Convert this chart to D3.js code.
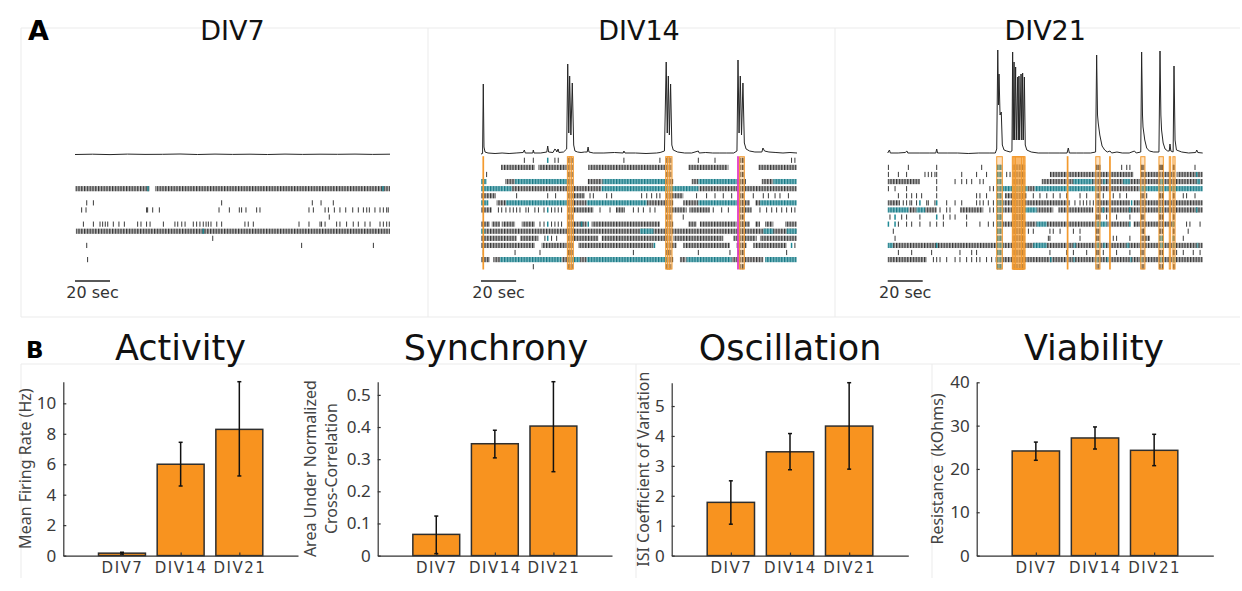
<!DOCTYPE html>
<html>
<head>
<meta charset="utf-8">
<script src="https://cdn.jsdelivr.net/npm/d3@7/dist/d3.min.js"></script>
<style>
  body { margin: 0; background: #fff; }
  svg text { font-family: "Noto Sans", sans-serif; }
  svg text.big { font-family: "DejaVu Sans", sans-serif; }
</style>
</head>
<body>
<svg id="figure" width="1242" height="591"></svg>
<script>

///////////////////////////////////////////////////////////////////////////////
// data
///////////////////////////////////////////////////////////////////////////////

var ages = ['DIV7', 'DIV14', 'DIV21']
var recordingSeconds = 180
var scaleBarSeconds = 20
var channelCount = 16

// population trace, [seconds, height]
var traceDIV7 = [[0,0.5],[10,0.8],[20,0.4],[30,0.9],[40,0.6],[50,0.7],[60,1.0],[70,0.5],[80,0.9],[90,0.6],
  [100,0.8],[110,0.5],[120,0.9],[130,0.6],[140,0.8],[150,0.7],[160,0.9],[170,0.6],[180,0.8]]

var traceDIV14 = [[0,1],[0.9,1.5],[1.3,71],[1.7,8],[2.3,3],[4,2],[8,1.5],[12,2],[16,1.5],[20,2],[24,2.5],[24.7,5],
  [25.2,2],[29.5,2],[29.8,5],[30.2,2],[34,2],[37.5,3],[38,9],[38.5,3],[41,2.5],[42.1,6],[42.7,5],[43.2,3],[43.9,6],
  [44.4,2.5],[47,3],[48.8,6],[49.4,91],[50,22],[50.5,79],[51.2,20],[52,72],[52.8,10],[53.5,4],[55,3],[57,2.5],
  [59,3],[60.5,3],[61,8],[61.5,3],[64,2],[70,2],[76,2.5],[81,2],[81.4,4],[82,2],[88,2],[94,1.5],[100,2],[102,2.5],
  [104.5,4],[105.5,93],[106.1,22],[106.7,79],[107.3,20],[108,71],[108.7,10],[109.5,5],[112,3],[116,2],[120,2],
  [123.8,4],[124.3,2],[128,2.5],[132,2],[136,2],[140,2],[144,2],[145.8,4],[146.4,95],[147,22],[147.7,79],
  [148.4,20],[149.2,72],[150,12],[151,6],[153,4],[156,3],[160,3],[160.6,7],[161.5,4],[164,3],[168,2.5],[172,2],
  [176,2.5],[180,2]]

var traceDIV21 = [[0,2],[1,5],[1.5,2],[6,2],[10,2.5],[11,4],[11.5,2],[18,2],[24,2],[27.5,2],[28,6],[28.5,2],[34,2],
  [40,2],[46,1.5],[52,2],[58,2],[61.5,2],[62.3,6],[62.9,105],[63.3,50],[63.6,81],[64.2,40],[64.9,43],[65.5,10],
  [66.5,5],[68,4],[70,3],[71,4],[71.4,103],[71.7,15],[72.2,93],[72.5,15],[73.1,88],[73.5,15],[74.3,78],[74.6,15],
  [75,79],[75.4,15],[76.2,81],[76.6,15],[77.1,82],[77.5,15],[78.1,78],[78.6,10],[79.5,5],[82,3],[86,2],[92,2],
  [98,2],[102.5,2],[103.2,7],[103.8,2],[108,2],[112,2],[116,2],[118.8,3],[119.4,100],[119.9,40],[120.3,32],
  [121.2,20],[122.5,9],[124,5],[125.5,3],[127,4],[128,2],[131,3],[134,2],[138,2],[141,4],[142,2],[144.6,3],
  [145.1,103],[145.6,40],[145.9,28],[146.9,15],[148,7],[149.5,4],[152,3],[155,3],[155.6,104],[156.1,40],
  [156.5,25],[157.4,12],[158.5,6],[160,4],[160.9,4],[161.3,11],[161.8,4],[163.1,3],[163.6,89],[164.2,15],
  [165,5],[168,3],[172,2],[176,2.5],[176.6,5],[177.2,2.5],[180,2]]

// raster per channel: d = dense gray runs, t = dense teal runs, s = single spikes, ts = teal spikes (seconds)
var rasterDIV7 = [{}, {}, {}, {},
  {d: [[0.2,42.5],[45.7,180]], ts: [41.7,176]},
  {},
  {s: [6.7,10.5,83.8,135.6,140.6,147.6]},
  {s: [3.8,6.3,40.9,41.5,44.4,48.2,82.3,88.2,93.9,95.2,97.7,103.8,105.7,133.7,136.2,142.9,144.8,148.2,151.4,
    154.7,158.7,161.9,164.8,166.7,168.2,171.4,174.3,176.2,178.1,179]},
  {s: [145.3]},
  {s: [4.8,10.5,14.3,15.8,17.3,18.7,21.9,25.1,28.2,35.8,37.7,40.9,42.9,50.5,57.1,58.7,61,62.9,67.6,69.5,71.4,
    73.3,74.9,76.2,77.7,81,83.8,97.1,99,101.9,128,133.7,140,140.9,142.9,149.5,151.4,155.2,159,161.9,165.7,168.6,
    174.3,176.2,178.1,179.6]},
  {d: [[0.5,180]], ts: [73.3]},
  {s: [78.7]},
  {s: [6.7,129.5,170.5]},
  {},
  {s: [7.2]},
  {}]

var rasterDIV14 = [
  {s: [24.7,29.8,42.1,44,81.4,101.9,123.8,133.3,176.9,178.8], ts: [38]},
  {d: [[11.4,30.7],[32.7,48.8],[61.1,104.8],[118.1,140.9],[158,179.8]]},
  {s: [3.2]},
  {t: [[0,3.2],[19.4,48.8],[69.3,104.8],[123.8,145.6],[166.5,179.8]],
    d: [[13.7,19.4],[48.8,52.6],[60.8,69.3],[104.8,109.5],[120,123.8],[145.6,150.9],[159.9,166.5]]},
  {t: [[0,17.5],[68.7,123.8]], d: [[17.5,68.7],[123.8,179.8]]},
  {d: [[0,8.5],[52.6,59.2],[105.8,115.2]],
    s: [20.3,38,42.5,62.1,64,71.6,74.4,91.5,94.4,97.2,100.1,101.9,122.8,128.5,133.3,138,142.8,155.1,160.8,163.7,
      167.5,170.3,175.1]},
  {t: [[0,4.2],[14.2,48.8],[60.2,94.4],[123.8,145.6],[158.9,179.8]],
    d: [[8.9,14.2],[48.8,60.2],[94.4,109.5],[115.2,123.8],[145.6,153.2],[156.1,158.9]]},
  {d: [[0,6.1],[52.6,64],[76.9,82],[105.8,117.1],[118.7,130.4],[146.6,154.2]],
    s: [9.9,11.8,14.2,16.5,18.4,20.3,22.2,25.6,27,30.7,32.7,35.9,40.2,42.1,44,45.9,67.8,73.5,86.8,89.6,92.5,96.3,
      99.1,132.3,137.1,140.9,158.9,162.7,165.6,168.4,171.3,174.1,176.9,178.8], ts: [38]},
  {s: [115.2]},
  {d: [[0,5.1],[6.1,10.8],[11.8,19.4],[23.2,30.7],[52.6,60.2],[63,101.9],[105.8,109.5],[118.1,122.8],[124.7,145.6],
    [146.6,153.2],[156.1,158.9],[161.8,166.5],[173.2,179.8]], s: [33.6,35.9,40.2,42.1,44,45.9], ts: [38,57.3,61.1]},
  {d: [[2.3,179.8]], t: [[0,2.3],[90.6,98.2],[160.8,166.5],[174.1,179.8]]},
  {d: [[0,20.3],[22.2,32.7],[52.6,66.8],[68.7,105.8],[109.5,138],[143.7,157],[158.9,179.8]], s: [36.4,40.2,43.1],
    ts: [38]},
  {d: [[0,30.7],[34.5,48.8],[55.4,98.2],[105.8,111.4],[115.2,141.8],[145.6,151.3],[155.1,174.1]], s: [50.7,178.8],
    ts: [98.8,176.9]},
  {s: [1.3,19.4,33.6,49.7,50.7,86.8,106.7,123.8,141.8,146.6,174.1]},
  {d: [[0,5.1],[7,10.8],[45.9,49.7],[56.4,60.2],[105.8,109.5],[113.3,117.1],[142.8,160.8]],
    t: [[10.8,45.9],[49.7,56.4],[60.2,105.8],[117.1,142.8],[161.8,179.8]]},
  {s: [29.8]}]

var rasterDIV21 = [
  {},
  {s: [0.4,11.8,28,53.7,119.4,121.3,133.7,136.6,138.4,145.1,155.6,156.6,163.2,175.6], t: [[62.5,65]]},
  {s: [0.4,6.1,10.8,21.3,23.2,25.1,27,28,42.3,50.8,56.5,68,69.9,145.1],
    d: [[92.7,140.4],[147,163.2],[165.1,180]], t: [[62.5,65]], ts: [176.6]},
  {d: [[0,18.4],[88,180]], s: [28,38.5,42.3,45.1,48,52.7,54.6],
    t: [[62.5,65],[106,117],[123.2,124.5],[134.6,138.4],[155.6,157.5],[176.6,178.5]]},
  {s: [0.4,4.2,10.8,28,58.4,60.4], t: [[62.5,80],[84,119.4],[144,180]], d: [[80,84],[119.4,144]]},
  {s: [6.1,10.8,13.7,16.5,19.4,28,50.8,52.7,56.5,83.2,87,90.9,94.6,98.5,102.3,109.9,113.7,123.2,128.9,132.7,
    136.5,144.6,148,155.6,157.5,163.2,168.9,170.8,175.6], d: [[67,79.4]], t: [[62.5,65]]},
  {d: [[0,7],[66,104.2],[119.4,138.4],[140.4,180]],
    s: [8.9,10.8,12.7,13.7,16.5,22.3,23.2,27,33.7,38.5,42.3,50.8,52.7,54.6,57.5,60.4,107,109.9,111.8,113.7,115.6,
      117.5], ts: [18.4,28,139.4], t: [[62.3,66]]},
  {t: [[0,11.8],[16.5,21.3],[62.5,66],[78.5,85.1]],
    d: [[11.8,16.5],[21.3,28],[41.3,54.6],[66,71],[85.1,94.6],[97.5,117.5],[119.4,180]],
    s: [29.9,33.7,35.6,58.4,60.4], ts: [123.2,138.4,155.6,176.6]},
  {s: [1.3,8,10.8,18.4,31.8,35.6,38.5,45.1,119.4,121.3,125.1,130.8,138.4,145.1,155.6,157.5,163.2], ts: [4.2,28],
    t: [[62.5,65]]},
  {ts: [0.4,4.2,138.4,163.2], s: [6.1,10.8,13.7,18.4,24.2,28,31.8,45.1,52.7,57.5,60.4,170.8,172.7,178.5],
    t: [[62.5,65],[85.1,90.9],[119.4,125.1]], d: [[65,85.1],[90.9,119.4],[125.1,138],[140.4,163]]},
  {s: [3.2,80.4,83.2,92.7,94.6,98.5,106.1,109.9,119.4,146.1,155.6,163.2,171.7], t: [[62.5,65]]},
  {s: [4.2,91.8,92.7,109.9,119.4,128.9,130.8,138.4,168.9], d: [[144.6,149.9]], t: [[62.5,65],[155,157.5]],
    ts: [163.2]},
  {d: [[3,180]], t: [[0,3],[62.5,66],[83.2,90.9],[106.1,107.5],[119.4,121],[123.2,124.5],[136.5,138],[155.6,157.5],
    [163.2,164.2],[176.6,177.5]], ts: [28]},
  {s: [6.1,13.7,25.1,41.3,48,50.8,92.7,102.3,106.1,113.7,119.4,123.2,130.8,138.4,144.6,155.6,163.2,165.1,168.9,
    174.6,178.5], t: [[62.5,65]]},
  {d: [[0,22.3],[61.5,180]], s: [26.1,28,29.9,33.7,38.5,41.3,45.1,48,50.8,52.7,56.5,59.4],
    t: [[62.5,65],[92.7,93.7],[106.1,107],[119.4,120.4],[125.1,126],[138.4,139.4],[144.6,145.6],[155.6,156.6],
      [163.2,164.2]]},
  {t: [[62.5,65]]}]

// detected network bursts [start, end] seconds, and the pink marker
var burstsDIV7 = []
var burstsDIV14 = [[1.1,1.5],[49.2,51.5],[50.2,52.6],[105.2,107.5],[106.2,108.8],[147.3,150]]
var burstsDIV21 = [[62.3,65.5],[71.2,78.5],[71.6,77.5],[72.2,78],[73,76.5],[102.6,103],[118.9,121.3],[126.8,127.2],
  [144.6,147],[155,157.5],[160.9,161.7],[163,164.2]]
var markersDIV14 = [[146.2,146.6]]

// summary bars: mean and error bar [low, high]
var activityMean = [0.16, 6.0, 8.29]
var activityErr = [[0.1, 0.22], [4.57, 7.44], [5.23, 11.42]]
var activityTicks = [0, 2, 4, 6, 8, 10]
var activityTickLabels = ['0', '2', '4', '6', '8', '10']

var synchronyMean = [0.066, 0.348, 0.403]
var synchronyErr = [[0.006, 0.123], [0.304, 0.39], [0.261, 0.541]]
var synchronyTicks = [0, 0.1, 0.2, 0.3, 0.4, 0.5]
var synchronyTickLabels = ['0', '0.1', '0.2', '0.3', '0.4', '0.5']

var oscillationMean = [1.78, 3.47, 4.33]
var oscillationErr = [[1.05, 2.5], [2.87, 4.08], [2.89, 5.78]]
var oscillationTicks = [0, 1, 2, 3, 4, 5]
var oscillationTickLabels = ['0', '1', '2', '3', '4', '5']

var viabilityMean = [24.15, 27.15, 24.3]
var viabilityErr = [[22.0, 26.2], [24.6, 29.7], [20.76, 28.0]]
var viabilityTicks = [0, 10, 20, 30, 40]
var viabilityTickLabels = ['0', '10', '20', '30', '40']


///////////////////////////////////////////////////////////////////////////////
// layout
///////////////////////////////////////////////////////////////////////////////

var svg = d3.select('#figure')
var frameColor = '#ebebeb'
var orange = '#f8931f'
var teal = '#1f8a96'

var recordings = [
  {title: 'DIV7', xRange: [75, 390], trace: traceDIV7, rows: rasterDIV7, bursts: burstsDIV7, markers: []},
  {title: 'DIV14', xRange: [481, 797], trace: traceDIV14, rows: rasterDIV14, bursts: burstsDIV14, markers: markersDIV14},
  {title: 'DIV21', xRange: [887.7, 1202.7], trace: traceDIV21, rows: rasterDIV21, bursts: burstsDIV21, markers: []}
]

var charts = [
  {title: 'Activity', titleX: 180.5, x0: 63.3, x1: 298, yTop: 381.7,
    mean: activityMean, err: activityErr, ticks: activityTicks, tickLabels: activityTickLabels,
    label: ['Mean Firing Rate (Hz)'], labelX: [25]},
  {title: 'Synchrony', titleX: 496, x0: 377.7, x1: 612, yTop: 381.7,
    mean: synchronyMean, err: synchronyErr, ticks: synchronyTicks, tickLabels: synchronyTickLabels,
    label: ['Area Under Normalized', 'Cross-Correlation'], labelX: [310, 331]},
  {title: 'Oscillation', titleX: 790, x0: 671.7, x1: 908.3, yTop: 382.7,
    mean: oscillationMean, err: oscillationErr, ticks: oscillationTicks, tickLabels: oscillationTickLabels,
    label: ['ISI Coefficient of Variation'], labelX: [643]},
  {title: 'Viability', titleX: 1094, x0: 976.7, x1: 1213.3, yTop: 382.3,
    mean: viabilityMean, err: viabilityErr, ticks: viabilityTicks, tickLabels: viabilityTickLabels,
    label: ['Resistance  (kOhms)'], labelX: [937]}
]
var chartBottom = 555.6


// stripe patterns standing in for runs of dense spikes
var defs = svg.append('defs')
function addStripes(id, back, front){
  var p = defs.append('pattern')
      .attr('id', id)
      .attr('patternUnits', 'userSpaceOnUse')
      .attr('width', 2.8)
      .attr('height', 10)
  p.append('rect').attr('width', 2.8).attr('height', 10).attr('fill', back)
  p.append('rect').attr('width', 1.3).attr('height', 10).attr('fill', front)
}
addStripes('dense-gray', '#bdbdbd', '#363636')
addStripes('dense-teal', '#7fbcc4', '#177884')


// faint panel frames
function frameLine(x1, y1, x2, y2){
  svg.append('line')
      .attr('x1', x1).attr('y1', y1).attr('x2', x2).attr('y2', y2)
      .attr('stroke', frameColor)
      .attr('stroke-width', 1)
}
frameLine(21, 28, 1240, 28)
frameLine(21, 317, 1240, 317)
frameLine(21, 28, 21, 317)
frameLine(428, 28, 428, 317)
frameLine(835, 28, 835, 317)
frameLine(21, 364, 1240, 364)
frameLine(21, 364, 21, 578)
frameLine(636, 364, 636, 578)
frameLine(932, 364, 932, 578)

svg.append('text').attr('class', 'big')
    .attr('x', 28).attr('y', 40)
    .attr('font-size', 27).attr('font-weight', 'bold')
    .text('A')
svg.append('text').attr('class', 'big')
    .attr('x', 26).attr('y', 358)
    .attr('font-size', 23).attr('font-weight', 'bold')
    .text('B')


///////////////////////////////////////////////////////////////////////////////
// panel A: trace + raster
///////////////////////////////////////////////////////////////////////////////

var yRow = d3.scaleLinear().domain([0, channelCount - 1]).range([160.3, 266.7])
var yTrace = d3.scaleLinear().domain([0, 100]).range([155, 55])
var tickHalf = 2.6

function isActive(row){
  return !!(row.d || row.t || row.s || row.ts)
}

function drawRecording(p){
  var x = d3.scaleLinear().domain([0, recordingSeconds]).range(p.xRange)
  var g = svg.append('g').attr('class', 'recording')

  g.append('text').attr('class', 'big')
      .attr('x', x(90)).attr('y', 40)
      .attr('text-anchor', 'middle')
      .attr('font-size', 27)
      .attr('fill', '#111')
      .text(p.title)

  var channel = g.selectAll('.channel')
      .data(p.rows)
    .enter().append('g')
      .attr('class', 'channel')
      .attr('transform', function(d, i){ return 'translate(0,' + yRow(i) + ')' })

  // every firing channel spikes during a network burst
  channel.selectAll('.burst-ticks')
      .data(function(d){
        return isActive(d) ? p.bursts.filter(function(b){ return b[1] - b[0] >= 1 }) : []
      })
    .enter().append('rect')
      .attr('x', function(b){ return x(b[0]) })
      .attr('width', function(b){ return x(b[1]) - x(b[0]) })
      .attr('y', -tickHalf)
      .attr('height', tickHalf * 2)
      .attr('fill', 'url(#dense-gray)')

  channel.selectAll('.dense')
      .data(function(d){ return d.d || [] })
    .enter().append('rect')
      .attr('x', function(s){ return x(s[0]) })
      .attr('width', function(s){ return x(s[1]) - x(s[0]) })
      .attr('y', -tickHalf)
      .attr('height', tickHalf * 2)
      .attr('fill', 'url(#dense-gray)')

  channel.selectAll('.dense-teal')
      .data(function(d){ return d.t || [] })
    .enter().append('rect')
      .attr('x', function(s){ return x(s[0]) })
      .attr('width', function(s){ return x(s[1]) - x(s[0]) })
      .attr('y', -tickHalf)
      .attr('height', tickHalf * 2)
      .attr('fill', 'url(#dense-teal)')

  channel.selectAll('.spike')
      .data(function(d){ return d.s || [] })
    .enter().append('line')
      .attr('x1', function(t){ return x(t) })
      .attr('x2', function(t){ return x(t) })
      .attr('y1', -tickHalf)
      .attr('y2', tickHalf)
      .attr('stroke', '#3a3a3a')
      .attr('stroke-width', 1)

  channel.selectAll('.spike-teal')
      .data(function(d){ return d.ts || [] })
    .enter().append('line')
      .attr('x1', function(t){ return x(t) })
      .attr('x2', function(t){ return x(t) })
      .attr('y1', -tickHalf)
      .attr('y2', tickHalf)
      .attr('stroke', teal)
      .attr('stroke-width', 1.5)

  // population trace
  var line = d3.line()
      .x(function(d){ return x(d[0]) })
      .y(function(d){ return yTrace(d[1]) })
  g.append('path')
      .datum(p.trace)
      .attr('d', line)
      .attr('fill', 'none')
      .attr('stroke', '#262626')
      .attr('stroke-width', 1)
      .attr('stroke-linejoin', 'round')

  // burst windows
  g.selectAll('.burst')
      .data(p.bursts)
    .enter().append('rect')
      .attr('class', 'burst')
      .attr('x', function(b){ return x(b[0]) })
      .attr('width', function(b){ return x(b[1]) - x(b[0]) })
      .attr('y', 156.7)
      .attr('height', 112.3)
      .attr('fill', '#f7a23c')
      .attr('fill-opacity', 0.3)
      .attr('stroke', '#f39a2e')
      .attr('stroke-width', 1)

  g.selectAll('.marker')
      .data(p.markers)
    .enter().append('rect')
      .attr('x', function(b){ return x(b[0]) })
      .attr('width', function(b){ return x(b[1]) - x(b[0]) })
      .attr('y', 156.7)
      .attr('height', 112.3)
      .attr('fill', '#e23bc4')
      .attr('stroke', '#e23bc4')
      .attr('stroke-width', 1)

  // scale bar
  g.append('line')
      .attr('x1', x(0)).attr('x2', x(scaleBarSeconds))
      .attr('y1', 281).attr('y2', 281)
      .attr('stroke', '#222')
      .attr('stroke-width', 1.5)
  g.append('text').attr('class', 'big')
      .attr('x', x(scaleBarSeconds / 2)).attr('y', 298)
      .attr('text-anchor', 'middle')
      .attr('font-size', 16)
      .attr('fill', '#333')
      .text(scaleBarSeconds + ' sec')
}

recordings.forEach(drawRecording)


///////////////////////////////////////////////////////////////////////////////
// panel B: bar charts
///////////////////////////////////////////////////////////////////////////////

function drawBars(c){
  var yMax = Math.max(d3.max(c.err, function(e){ return e[1] }), d3.max(c.ticks))
  var x = d3.scaleLinear().domain([0, ages.length + 1]).range([c.x0, c.x1])
  var y = d3.scaleLinear().domain([0, yMax]).range([chartBottom, c.yTop])
  var barW = x(0.8) - x(0)
  var g = svg.append('g').attr('class', 'bar-chart')

  g.append('text').attr('class', 'big')
      .attr('x', c.titleX).attr('y', 360)
      .attr('text-anchor', 'middle')
      .attr('font-size', 35)
      .attr('fill', '#111')
      .text(c.title)

  g.selectAll('.bar')
      .data(c.mean)
    .enter().append('rect')
      .attr('class', 'bar')
      .attr('x', function(d, i){ return x(i + 1) - barW / 2 })
      .attr('width', barW)
      .attr('y', function(d){ return y(d) })
      .attr('height', function(d){ return chartBottom - y(d) })
      .attr('fill', orange)
      .attr('stroke', '#2e2e2e')
      .attr('stroke-width', 1.5)

  var yAxis = d3.axisLeft(y)
      .tickValues(c.ticks)
      .tickFormat(function(d, i){ return c.tickLabels[i] })
      .tickSizeInner(-3)
      .tickSizeOuter(0)
      .tickPadding(7)
  var ya = g.append('g')
      .attr('transform', 'translate(' + c.x0 + ',0)')
      .call(yAxis)
  ya.selectAll('text').attr('font-size', 17).attr('fill', '#3a3a3a').style('font-family', '"Noto Sans", sans-serif')

  var xAxis = d3.axisBottom(x)
      .tickValues([1, 2, 3])
      .tickFormat(function(d, i){ return ages[i] })
      .tickSizeInner(-3)
      .tickSizeOuter(0)
      .tickPadding(7)
  var xa = g.append('g')
      .attr('transform', 'translate(0,' + chartBottom + ')')
      .call(xAxis)
  xa.selectAll('text')
      .attr('font-size', 15)
      .attr('fill', '#3a3a3a')
      .style('letter-spacing', '1.5px')
      .style('font-family', '"DejaVu Sans", sans-serif')

  g.selectAll('.domain, .tick line').attr('stroke', '#333').attr('stroke-width', 1.2)

  // error bars
  var eb = g.selectAll('.errbar')
      .data(c.err)
    .enter().append('g')
      .attr('class', 'errbar')
      .attr('stroke', '#111')
      .attr('stroke-width', 1.5)
  eb.append('line')
      .attr('x1', function(d, i){ return x(i + 1) })
      .attr('x2', function(d, i){ return x(i + 1) })
      .attr('y1', function(d){ return y(d[0]) })
      .attr('y2', function(d){ return y(d[1]) })
  eb.append('line')
      .attr('x1', function(d, i){ return x(i + 1) - 2 })
      .attr('x2', function(d, i){ return x(i + 1) + 2 })
      .attr('y1', function(d){ return y(d[0]) })
      .attr('y2', function(d){ return y(d[0]) })
  eb.append('line')
      .attr('x1', function(d, i){ return x(i + 1) - 2 })
      .attr('x2', function(d, i){ return x(i + 1) + 2 })
      .attr('y1', function(d){ return y(d[1]) })
      .attr('y2', function(d){ return y(d[1]) })

  // y label, one or two lines
  var midY = (chartBottom + c.yTop) / 2
  c.label.forEach(function(txt, k){
    g.append('text')
        .attr('transform', 'translate(' + c.labelX[k] + ',' + midY + ') rotate(-90)')
        .attr('text-anchor', 'middle')
        .attr('dominant-baseline', 'central')
        .attr('font-size', 16)
        .attr('fill', '#444')
        .style('white-space', 'pre')
        .text(txt)
  })
}

charts.forEach(drawBars)

</script>
</body>
</html>
